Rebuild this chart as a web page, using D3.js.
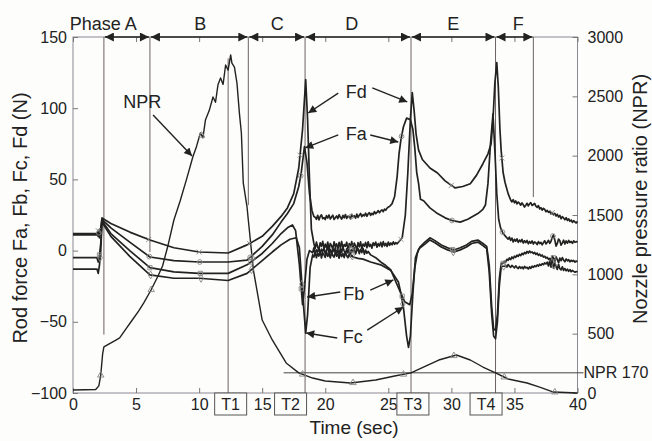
<!DOCTYPE html>
<html><head><meta charset="utf-8">
<script src="https://cdn.jsdelivr.net/npm/d3@7"></script>
<style>
html,body{margin:0;padding:0;background:#fdfdfb;}
svg{display:block;font-family:"Liberation Sans",Arial,sans-serif;}
</style></head>
<body><svg id="c" width="652" height="441"></svg>
<script>
// ---------------- data ----------------
const xTicks = [0,5,10,15,20,25,30,35,40];
const leftTicks = [-100,-50,0,50,100,150];
const rightTicks = [0,500,1000,1500,2000,2500,3000];

// pairs evenly spaced readings with their times
function seg(t0, dt, vals){ return vals.map((v,i)=>[+(t0+i*dt).toFixed(2), v]); }

// Nozzle pressure ratio (right axis) [time s, NPR]
const NPR = [[0,25],[1.8,30],[2.05,60],[2.2,150],[2.35,330],[2.45,388],[2.8,410],[3.3,440],[3.7,464],[4.2,540],[4.7,615],[5.2,690],[5.6,758],[6.2,870],[6.7,978],[7.1,1070],[7.5,1230],[8.0,1458],[8.5,1620],[9.0,1800],[9.5,1989],[9.8,2080],[10.1,2191],[10.3,2150],[10.5,2300],[10.8,2380],[11.1,2494],[11.3,2450],[11.5,2600],[11.7,2655],[11.9,2600],[12.1,2764],[12.3,2720],[12.5,2849],[12.6,2780],[12.8,2747],[13.0,2612],[13.2,2350],[13.35,2191],[13.5,1770],[13.8,1567],[13.9,1458],[14.3,1037],[15.0,615],[15.8,447],[16.9,253],[17.9,170],[19,126],[20,101],[22,84],[24,110],[25.5,143],[26.8,170],[28,228],[29,278],[30.4,320],[31.5,278],[32.5,219],[33.5,170],[34.5,118],[36,84],[37,50],[38.1,8],[40,0]];

// Rod forces (left axis) [time s, N]
const FdD = [5,1.5,6,2.5,0.8,5.5,3,6.5,1.2,4.5,2,6,0.5,5,3.5,1,6.2,2.8,4.8,0.9,5.8,2.2,6.4,1.6,4.2,3,5.9,1.1,4.9,2.5,6.3,1.8,5.2,3.3,0.9,5.6,2.7,6.1,1.4,4.6,3.1,5.7,2,6.2,2.9,4.4,1.7,5.5,3.6,6,2.4,4.9,3.2,5.8,2.6,6.3,3.4,5.1,2.9,6,3.7,5.4,4.1,6.2,4.4,5.6,4.8,5.9];
const FdF = [35.5,34.2,35.8,33.6,34.9,32.8,34.1,33.3,31.9,33.5,32.2,30.6,31.8,33.2,31.4,32.9,33.6,31.7,32.4,33.1,31.2,30.4,31.6,29.3,30.1,28.4,29.7,28.9,27.3,28.2,26.9,27.6,25.8,26.7,25.1,26.2,24.3,25.5,23.6,24.7,22.4,23.8,22.9,21.7,23.1,21.2,22.3,20.6,21.5,19.8,21,20.1,19.4,20.5];
const Fd = [[0,11],[1.9,11],[2.0,14],[2.1,9],[2.2,16],[2.3,23],[3,19],[4.5,13],[6.1,7.4],[8,2],[10,-1],[12.3,-1.7],[13.8,4],[15,10],[15.8,17],[16.5,24],[17,30],[17.5,40],[17.9,58],[18.2,85],[18.45,120],[18.6,92],[18.75,50],[18.9,15],
 ...seg(19.1,0.1,FdD),
 [26.1,9],[26.35,25],[26.55,55],[26.75,92],[26.9,111],[27.05,98],[27.2,82],[27.4,70.6],[27.7,64],[28.3,58],[28.9,54.5],[29.5,49],[30.3,44],[30.9,45],[31.5,47],[32,53],[32.5,61],[32.9,68],[33.15,75],[33.3,92],[33.45,118],[33.6,132],[33.72,115],[33.85,85],[33.95,70],[34.1,55],[34.25,48],[34.5,40],
 ...seg(34.7,0.1,FdF)];

const FaD = [23.5,22,24.8,21.6,23.9,25.1,22.4,23.2,21.8,24.6,22.9,25,22.2,23.6,24.9,21.9,23.1,24.4,22.5,25.2,23.4,22.1,24.7,23,25.3,22.6,24.2,23.7,22.3,25.4,23.8,24.5,22.8,25.6,23.3,24.9,26.1,23.9,25.2,24.4,26.3,24.1,25.8,26.6,24.7,26.2,25.3,27.4,25.9,26.8,28.1,26.6,27.9,28.6,27.3,29.2,28.4,29.8,30.6,31];
const FaF = [8,9.5,7.2,8.8,6.1,7.9,6.6,8.3,5.8,7.4,6.2,7.8,5.3,6.9,5.7,7.1,4.8,6.4,5.2,6.8,4.6,6.1,5.5,4.2,6.3,4.9,5.8,4.1,5.6,6.9,4.7,5.9,7.2,5.1,6.6,9.4,11,7.5,3.2,5,8.1,6.9,3.8,5.4,7.3,4.6,6.8,5.2,7.1,5.6,6.4,5.1,6.9,5.8,6.3,6];
const Fa = [[0,12],[1.9,12],[2.0,10],[2.1,15],[2.2,13],[2.3,22],[3,16],[4.5,6],[6.1,-4.5],[8,-7],[10,-8],[12.3,-8],[13.8,-6.7],[15,3],[15.8,11],[16.5,20],[17,26],[17.5,33],[17.9,45],[18.1,55],[18.35,73],[18.55,62],[18.75,40],[18.95,28],[19.1,24],
 ...seg(19.2,0.1,FaD),
 [25.3,33],[25.5,38],[25.7,52],[25.85,68],[26.0,78],[26.2,87],[26.45,93],[26.75,92],[26.95,85],[27.1,72],[27.25,55],[27.4,47],[27.55,36],[27.8,35],[28.3,30],[28.9,26],[29.5,23],[30.1,21],[30.7,20],[31.3,22],[32.1,26],[32.5,29],[32.7,32],[32.9,47],[33.1,75],[33.3,96],[33.45,70],[33.6,40],[33.75,22],[33.9,16],[34.1,12],[34.3,10],
 ...seg(34.5,0.1,FaF)];

const FbD = [-1.5,2,-2.5,0.5,-1,2.2,-2.8,1,-0.5,1.8,-2.2,0.2,2.4,-1.8,0.8,-2.6,1.5,-0.8,2.1,-2,0.4,-2.7,1.7,-1.2,2.3,-0.3,-2.4,1.2,-1.6,2,-2.9,0.6,-0.9,1.9,-2.3,0.1,1.4,-2.1,0.9,-1.4,1.6,-2.5,0.3,-1.9,-0.6];
const FbF = [-9,-7.5,-8.2,-6.1,-6.8,-5.2,-6.3,-4.5,-5.6,-3.9,-4.8,-3.2,-4.1,-2.6,-3.5,-1.9,-2.8,-1.3,-2.2,-0.6,-1.7,-0.3,-1.4,-0.9,-2.1,-1.2,-2.7,-1.8,-3.4,-2.5,-3.9,-3.1,-4.6,-4,-5.3,-4.7,-6.2,-5.4,-6.9,-3.8,-5.1,-7.4,-4.4,-6.3,-8.5,-5.2,-7.1,-4.9,-6.6,-7.8,-5.9,-7.2,-6.4,-7.9,-6.8,-7.5,-6.9,-8.1,-7.3,-7.8];
const Fb = [[0,-5],[1.9,-5],[2.0,-8],[2.1,-3],[2.2,5],[2.3,21],[3,12],[4.5,0],[6.1,-12],[8,-15],[10,-16],[12.3,-16],[13.8,-10],[15,-2],[15.8,5],[16.5,12],[17,16],[17.4,18],[17.65,14],[17.95,-10],[18.2,-38],[18.35,-26],[18.55,-6],[18.75,0],
 ...seg(19.0,0.1,FbD),
 [23.6,-3],[24,-5],[24.4,-8],[24.8,-10.5],[25.2,-13.6],[25.55,-21],[25.8,-26],[26.0,-30],[26.3,-36],[26.7,-38],[26.9,-30],[27.1,-12],[27.3,-2],[27.5,2.5],
 [27.9,6],[28.3,9],[28.7,7],[29.2,4],[29.7,2],[30.2,0.4],[30.7,2],[31.2,4],[31.6,6.5],[32.1,7.4],[32.5,5],[32.8,3],[33.0,-10],[33.2,-40],[33.35,-55],[33.5,-56],[33.65,-45],[33.8,-20],[33.95,-9],
 ...seg(34.1,0.1,FbF)];

const FcD = [-4.5,-1,-5,-2,-3.8,-0.5,-5.2,-1.5,-3,-4.8,-0.8,-4,-2.2,-5.1,-1.2,-3.5,-4.6,-0.9,-3.9,-2.5,-5.3,-1.4,-4.2,-2,-4.9,-1.1,-3.6,-5,-2.4,-4.4,-3.2];
const FcF = [-11,-10.2,-11.6,-9.8,-10.9,-11.8,-10.4,-11.3,-12.1,-10.7,-11.9,-12.6,-11.2,-12.4,-11.5,-12.8,-11.1,-12.2,-11.7,-12.9,-11.4,-12.5,-10.9,-11.8,-10.6,-11.3,-10.1,-10.9,-9.6,-10.4,-9.2,-9.9,-8.6,-9.4,-8.1,-10.8,-7.3,-11.6,-6.2,-12.4,-8.3,-11.1,-13.2,-9.6,-12.7,-13.5,-11.4,-13.9,-12.6,-14.2,-13.1,-14.5,-13.4,-14.8,-13.9,-14.6,-15.2,-14.7,-15];
const Fc = [[0,-13],[1.9,-13],[2.0,-16],[2.1,-10],[2.2,0],[2.3,20],[3,10],[4.5,-4],[6.1,-17],[8,-19.4],[10,-19.4],[12.3,-21],[13.8,-16],[15,-7],[15.8,-1],[16.5,4],[17.2,8],[17.7,9],[17.95,2],[18.2,-30],[18.45,-58],[18.6,-45],[18.8,-12],[19,-3],
 ...seg(19.1,0.1,FcD),
 [22.2,-4.5],[22.6,-5.5],[23,-6],[23.6,-8],[24.4,-10],[25.2,-14],[25.8,-22],[26.0,-30],[26.2,-40],[26.45,-60],[26.6,-68],[26.75,-60],[26.95,-30],[27.15,-5],[27.4,1],
 [27.9,4.5],[28.3,7.5],[28.7,5.5],[29.2,2.5],[29.7,0.5],[30.2,-1],[30.7,0.5],[31.2,2.5],[31.6,5],[32.1,6],[32.5,3.5],[32.8,1.5],[33.0,-15],[33.2,-45],[33.35,-60],[33.5,-62],[33.65,-50],[33.8,-25],[33.95,-11],
 ...seg(34.2,0.1,FcF)];

// marker times (approx. every 4 s)
const markerTimes = [2,6,10,14,18,22,26,30,34,38];

// phases
const phaseBounds = [2.45,6.1,13.9,18.4,26.8,33.5,36.5];
const phaseBottoms = [-59,-1,32,-100,-100,-100,37.6];
const phaseNames = ["Phase A","B","C","D","E","F"];
const phaseLabelT = [2.4,10.08,16.2,22.1,30.15,35.3];

// T markers
const tNames = ["T1","T2","T3","T4"];
const tLineT = [12.3,18.4,26.8,33.5];
const tBoxT = [12.5,17.25,26.95,32.75];

// annotations: label, text position [t,F], arrows [[t0,F0,t1,F1],...]
const labels = [
  {text:"NPR", pos:[5.5,100.2], arrows:[[6.35,95.2,9.44,66.4]]},
  {text:"Fd", pos:[22.46,107], arrows:[[21.03,110.6,18.65,96.6],[23.73,114.3,26.5,104.4]]},
  {text:"Fa", pos:[22.46,77.7], arrows:[[21.03,81.2,18.41,72.1],[23.57,81.2,25.79,76.3]]},
  {text:"Fb", pos:[22.26,-34.7], arrows:[[21.19,-29.1,18.57,-32.6],[23.57,-27.7,25.4,-20.6]]},
  {text:"Fc", pos:[22.18,-64.9], arrows:[[20.95,-61.4,18.49,-57.9],[23.33,-55.8,26.19,-39.6]]}
];
const nprRef = 170;
const nprRefStartT = 16.7;

// ---------------- drawing ----------------
const svg = d3.select("#c");
const L=73, R=577.5, T=37, B=393;
const x = d3.scaleLinear().domain([0,40]).range([L,R]);
const yL = d3.scaleLinear().domain([-100,150]).range([B,T]);
const yR = d3.scaleLinear().domain([0,3000]).range([B,T]);
const ink = "#222";

svg.append("rect").attr("width",652).attr("height",441).attr("fill","#fdfdfb");

const defs = svg.append("defs");
defs.append("marker").attr("id","ah").attr("viewBox","0 0 10 10").attr("refX",10).attr("refY",5)
  .attr("markerWidth",11).attr("markerHeight",8).attr("markerUnits","userSpaceOnUse").attr("orient","auto")
  .append("path").attr("d","M0,0L10,5L0,10Z").attr("fill",ink);
defs.append("marker").attr("id","ph").attr("viewBox","0 0 10 10").attr("refX",10).attr("refY",5)
  .attr("markerWidth",12).attr("markerHeight",9).attr("markerUnits","userSpaceOnUse").attr("orient","auto-start-reverse")
  .append("path").attr("d","M0,0L10,5L0,10Z").attr("fill",ink);

// frame
svg.append("rect").attr("x",L).attr("y",T).attr("width",R-L).attr("height",B-T)
  .attr("fill","none").attr("stroke","#8c8794").attr("stroke-width",1);

// axes
const fs = 16;
const axB = svg.append("g").attr("transform",`translate(0,${B})`)
  .call(d3.axisBottom(x).tickValues(xTicks).tickSize(-5).tickPadding(6));
const axTop = svg.append("g").attr("transform",`translate(0,${T})`)
  .call(d3.axisTop(x).tickValues(xTicks).tickSize(-5).tickFormat(""));
const axL = svg.append("g").attr("transform",`translate(${L},0)`)
  .call(d3.axisLeft(yL).tickValues(leftTicks).tickSize(-5).tickPadding(6).tickFormat(d=>d<0?"\u2212"+(-d):d));
const axR = svg.append("g").attr("transform",`translate(${R},0)`)
  .call(d3.axisRight(yR).tickValues(rightTicks).tickSize(-5).tickPadding(10).tickFormat(d3.format("d")));
[axB,axTop,axL,axR].forEach(a=>{
  a.select(".domain").remove();
  a.selectAll(".tick line").attr("stroke","#777");
  a.selectAll("text").attr("font-size",fs).attr("fill",ink).attr("font-family","Liberation Sans, Arial, sans-serif");
});

// phase / T vertical lines
const vl = svg.append("g").attr("stroke","#6f6262").attr("stroke-width",1);
phaseBounds.forEach((t,i)=>{
  vl.append("line").attr("x1",x(t)).attr("x2",x(t)).attr("y1",yL(150)).attr("y2",yL(phaseBottoms[i]));
});
vl.append("line").attr("x1",x(tLineT[0])).attr("x2",x(tLineT[0])).attr("y1",yL(135)).attr("y2",yL(-100));

// NPR 170 reference line
svg.append("line").attr("x1",x(nprRefStartT)).attr("x2",R+6).attr("y1",yR(nprRef)).attr("y2",yR(nprRef))
  .attr("stroke","#444").attr("stroke-width",1);
svg.append("text").attr("x",R+6).attr("y",yR(nprRef)).attr("dy","0.35em").attr("font-size",fs).attr("fill",ink).text("NPR "+nprRef);

// series lines
const lineL = d3.line().x(d=>x(d[0])).y(d=>yL(d[1]));
const lineR = d3.line().x(d=>x(d[0])).y(d=>yR(d[1]));
const gS = svg.append("g").attr("fill","none").attr("stroke",ink).attr("stroke-linejoin","round");
[Fc,Fb,Fa,Fd].forEach(s=>gS.append("path").attr("d",lineL(s)).attr("stroke-width",1.7));
gS.append("path").attr("d",lineR(NPR)).attr("stroke-width",1.4);

// markers (faint)
function interp(s,t){
  for(let i=1;i<s.length;i++){ if(s[i][0]>=t){const a=s[i-1],b=s[i];const f=(t-a[0])/(b[0]-a[0]);return a[1]+f*(b[1]-a[1]);} }
  return s[s.length-1][1];
}
const mk = svg.append("g").attr("fill","none").attr("stroke","#888").attr("stroke-width",0.9);
const shapes = [[Fd,d3.symbolX,yL],[Fa,d3.symbolCircle,yL],[Fb,d3.symbolSquare,yL],[Fc,d3.symbolDiamond,yL],[NPR,d3.symbolTriangle,yR]];
shapes.forEach(([s,sym,sc],k)=>{
  markerTimes.forEach(t=>{
    const tt=t+k*0.05;
    mk.append("path").attr("d",d3.symbol().type(sym).size(18)()).attr("transform",`translate(${x(tt)},${sc(interp(s,tt))})`);
  });
});

// phase arrows
const pa = svg.append("g").attr("stroke",ink).attr("stroke-width",1.3);
for(let i=0;i<phaseNames.length;i++){
  pa.append("line").attr("x1",x(phaseBounds[i])+1).attr("x2",x(phaseBounds[i+1])-1).attr("y1",T).attr("y2",T)
    .attr("marker-start","url(#ph)").attr("marker-end","url(#ph)");
  svg.append("text").attr("x",x(phaseLabelT[i])).attr("y",30).attr("text-anchor","middle")
    .attr("font-size",18).attr("fill",ink).text(phaseNames[i]);
}

// T boxes
tNames.forEach((n,i)=>{
  const cx=x(tBoxT[i]);
  svg.append("rect").attr("x",cx-16).attr("y",B).attr("width",32).attr("height",22)
    .attr("fill","#fdfdfb").attr("stroke","#555").attr("stroke-width",1);
  svg.append("text").attr("x",cx).attr("y",B+17).attr("text-anchor","middle").attr("font-size",fs).attr("fill",ink).text(n);
});

// annotations
labels.forEach(l=>{
  svg.append("text").attr("x",x(l.pos[0])).attr("y",yL(l.pos[1])).attr("text-anchor","middle")
    .attr("font-size",18).attr("fill",ink).text(l.text);
  l.arrows.forEach(a=>{
    svg.append("line").attr("x1",x(a[0])).attr("y1",yL(a[1])).attr("x2",x(a[2])).attr("y2",yL(a[3]))
      .attr("stroke",ink).attr("stroke-width",1.4).attr("marker-end","url(#ah)");
  });
});

// axis titles
svg.append("text").attr("transform","translate(27,218) rotate(-90)").attr("text-anchor","middle")
  .attr("font-size",20).attr("fill",ink).text("Rod force Fa, Fb, Fc, Fd (N)");
svg.append("text").attr("transform","translate(647,199) rotate(-90)").attr("text-anchor","middle")
  .attr("font-size",20).attr("fill",ink).text("Nozzle pressure ratio (NPR)");
svg.append("text").attr("x",354).attr("y",434).attr("text-anchor","middle")
  .attr("font-size",19).attr("fill",ink).text("Time (sec)");
</script></body></html>
